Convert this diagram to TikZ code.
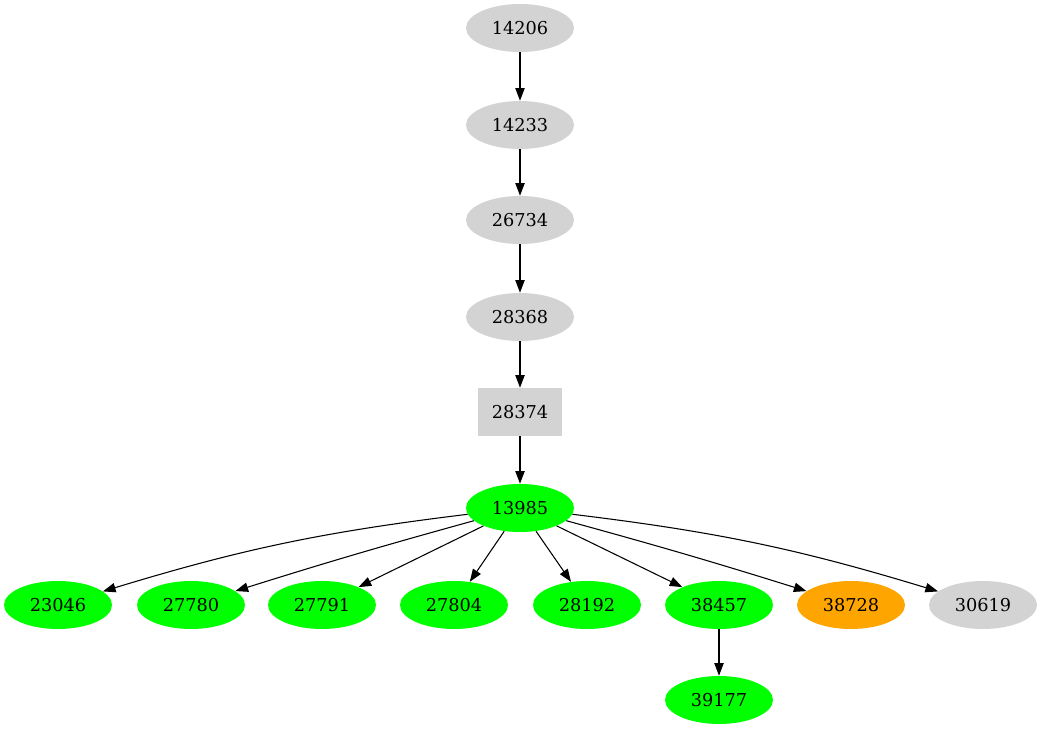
\documentclass[tikz,border=0pt]{standalone}
\usepackage{fontspec}
\setmainfont{DejaVu Serif}
\usetikzlibrary{arrows.meta,shapes.geometric}
\definecolor{gvgray}{HTML}{D3D3D3}
\definecolor{gvgreen}{HTML}{00FF00}
\definecolor{gvorange}{HTML}{FFA500}
\begin{document}
\begin{tikzpicture}[x=0.75pt,y=-0.75pt]
        \tikzstyle{job}=[ellipse,fill=gvgray,minimum width=81pt,minimum height=36pt,inner sep=0pt,font=\fontsize{13.3}{16}\selectfont]
        \tikzstyle{ok}=[job,fill=gvgreen]
        \tikzstyle{warn}=[job,fill=gvorange]
        \tikzstyle{boxjob}=[rectangle,fill=gvgray,minimum width=63pt,minimum height=36pt,inner sep=0pt,font=\fontsize{13.3}{16}\selectfont]
        \tikzstyle{edge}=[draw,line width=0.8pt,-{Triangle[length=9.5pt,width=7pt]}]
        \useasboundingbox (0,0) rectangle (1042,731);
        \begin{scope}
           \node [job] (j14206) at (520,28) {14206};
           \node [job] (j14233) at (520,125) {14233};
           \node [job] (j26734) at (520,220) {26734};
           \node [job] (j28368) at (520,317) {28368};
           \node [boxjob] (j28374) at (520,412) {28374};
           \node [ok] (j13985) at (520,508) {13985};
           \node [ok] (j23046) at (58,605) {23046};
           \node [ok] (j27780) at (191,605) {27780};
           \node [ok] (j27791) at (322,605) {27791};
           \node [ok] (j27804) at (454,605) {27804};
           \node [ok] (j28192) at (587,605) {28192};
           \node [ok] (j38457) at (719,605) {38457};
           \node [warn] (j38728) at (851,605) {38728};
           \node [job] (j30619) at (983,605) {30619};
           \node [ok] (j39177) at (719,700) {39177};
           \path[edge] (j14206) edge (j14233);
           \path[edge] (j14233) edge (j26734);
           \path[edge] (j26734) edge (j28368);
           \path[edge] (j28368) edge (j28374);
           \path[edge] (j28374) edge (j13985);
           \path[edge] (j13985) edge [bend right=5] (j23046);
           \path[edge] (j13985) edge [bend right=1] (j27780);
           \path[edge] (j13985) edge (j27791);
           \path[edge] (j13985) edge (j27804);
           \path[edge] (j13985) edge (j28192);
           \path[edge] (j13985) edge (j38457);
           \path[edge] (j13985) edge [bend left=1] (j38728);
           \path[edge] (j13985) edge [bend left=5] (j30619);
           \path[edge] (j38457) edge (j39177);
        \end{scope}
      \end{tikzpicture}
\end{document}
